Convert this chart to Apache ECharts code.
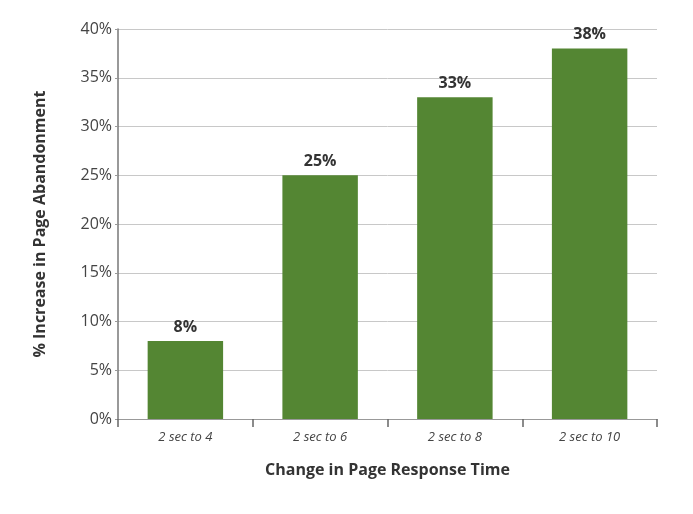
<!DOCTYPE html>
<html><head><meta charset="utf-8">
<script src="https://cdn.jsdelivr.net/npm/echarts@6/dist/echarts.min.js"></script>
<style>html,body{margin:0;padding:0;background:#fff}#c{width:693px;height:514px}</style>
</head><body><div id="c"></div>
<script>
const categories = ['2 sec to 4', '2 sec to 6', '2 sec to 8', '2 sec to 10'];
const values = [8, 25, 33, 38];
const yTicks = [0, 5, 10, 15, 20, 25, 30, 35, 40];

const chart = echarts.init(document.getElementById('c'));
chart.setOption({
  animation: false,
  grid: { left: 118, top: 29, width: 539, height: 390 },
  xAxis: {
    type: 'category',
    data: categories,
    name: 'Change in Page Response Time',
    nameLocation: 'middle',
    nameGap: 43,
    nameTextStyle: { fontFamily: 'Open Sans', fontWeight: 'bold', fontSize: 16, color: '#333' },
    axisLine: { lineStyle: { color: '#999', width: 1 } },
    axisTick: { show: true, length: 8, lineStyle: { color: '#666', width: 1.5 } },
    axisLabel: { fontFamily: 'Open Sans', fontStyle: 'italic', fontSize: 13, color: '#444', margin: 12 }
  },
  yAxis: {
    type: 'value',
    min: 0, max: 40, interval: 5,
    name: '% Increase in Page Abandonment',
    nameLocation: 'middle',
    nameGap: 70,
    nameTextStyle: { fontFamily: 'Open Sans', fontWeight: 'bold', fontSize: 16, color: '#333' },
    axisLine: { show: true, lineStyle: { color: '#777', width: 1.5 } },
    axisTick: { show: true, length: 3, lineStyle: { color: '#999' } },
    axisLabel: { fontFamily: 'Open Sans', fontSize: 16, color: '#444', margin: 6,
      formatter: v => yTicks.includes(v) ? v + '%' : '' },
    splitLine: { lineStyle: { color: '#c8c8c8', width: 1 } }
  },
  series: [{
    type: 'bar',
    data: values,
    barWidth: '56%',
    itemStyle: { color: '#548633' },
    label: { show: true, position: 'top', distance: 6, formatter: p => p.value + '%',
      fontFamily: 'Open Sans', fontWeight: 'bold', fontSize: 16, color: '#333' }
  }]
});
</script></body></html>
